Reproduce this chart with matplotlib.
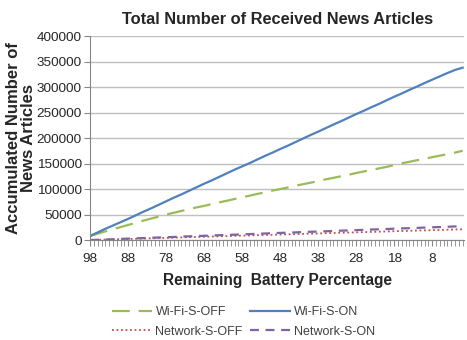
import matplotlib
matplotlib.use("Agg")
import matplotlib.pyplot as plt
from matplotlib.ticker import MultipleLocator, FixedLocator
import numpy as np

plt.rcParams['font.family'] = ['Liberation Sans', 'DejaVu Sans']

# remaining battery percentage, sampled every 2 %
battery = np.arange(98, -1, -2)

wifi_on = [8000, 15000, 22000, 28500, 35000, 41500, 48500, 55500, 62000, 69000,
           76000, 83000, 89500, 96500, 103500, 110500, 117000, 124000, 131000, 138000,
           144500, 151000, 158000, 165000, 171500, 178500, 185000, 192000, 199000, 206000,
           212500, 219500, 226500, 233000, 240000, 247000, 253500, 260500, 267000, 274000,
           281000, 287500, 294500, 301000, 308000, 314500, 321000, 327500, 333500, 338000]

wifi_off = [8000, 12500, 17000, 21000, 25500, 29500, 34000, 38000, 42000, 46000,
            50000, 53500, 57000, 60500, 64000, 67000, 70500, 74000, 77000, 80500,
            84000, 87000, 90500, 93500, 97000, 100000, 103000, 106500, 109500, 112500,
            115500, 119000, 122000, 125000, 128000, 131500, 134500, 137500, 140500, 143500,
            147000, 150500, 153500, 156500, 159500, 162500, 165500, 168500, 171500, 175000]

net_on = [0, 500, 1000, 1500, 2200, 2800, 3300, 3800, 4500, 5000,
          5500, 6000, 6800, 7300, 7800, 8300, 9000, 9500, 10000, 10500,
          11200, 11700, 12200, 12800, 13500, 14000, 14500, 15000, 15700, 16200,
          16700, 17200, 17900, 18400, 18900, 19400, 20100, 20600, 21100, 21600,
          22300, 22800, 23300, 23800, 24500, 25000, 25500, 26000, 26700, 27200]

net_off = [0, 400, 800, 1200, 1700, 2100, 2500, 3000, 3400, 3800,
           4300, 4700, 5100, 5600, 6000, 6400, 6900, 7300, 7700, 8200,
           8600, 9000, 9500, 9900, 10300, 10800, 11200, 11600, 12100, 12500,
           12900, 13400, 13800, 14200, 14700, 15100, 15500, 16000, 16400, 16800,
           17300, 17700, 18100, 18600, 19000, 19400, 19900, 20300, 20700, 21200]

x_ticks = [98, 88, 78, 68, 58, 48, 38, 28, 18, 8]

fig = plt.figure(figsize=(4.67, 3.4), dpi=100)
ax = fig.add_axes([0.193, 0.294, 0.801, 0.6])

l_woff, = ax.plot(battery, wifi_off, color='#9BBB59', lw=1.6, ls=(0, (8, 4)), label='Wi-Fi-S-OFF')
l_won, = ax.plot(battery, wifi_on, color='#4F81BD', lw=1.6, label='Wi-Fi-S-ON')
l_noff, = ax.plot(battery, net_off, color='#C0504D', lw=1.3, ls=(0, (1, 1.5)), label='Network-S-OFF')
l_non, = ax.plot(battery, net_on, color='#8064A2', lw=1.6, ls=(0, (4, 3)), label='Network-S-ON')

ax.set_xlim(98, -0.4)
ax.set_ylim(0, 400000)
ax.xaxis.set_major_locator(FixedLocator(x_ticks))
ax.xaxis.set_minor_locator(MultipleLocator(1))
ax.yaxis.set_major_locator(MultipleLocator(50000))
ax.grid(axis='y', color='#BFBFBF', lw=1)
ax.set_axisbelow(True)
for s in ['top', 'right']:
    ax.spines[s].set_visible(False)
for s in ['left', 'bottom']:
    ax.spines[s].set_color('#868686')
ax.tick_params(axis='x', which='both', direction='out', length=4, color='#868686',
               labelsize=9.7, labelcolor='#262626', pad=5)
ax.tick_params(axis='y', length=4, color='#868686', labelsize=9.7, labelcolor='#262626', pad=2)

ax.set_title('Total Number of Received News Articles', fontsize=11.8, fontweight='bold',
             color='#262626', pad=9)
ax.set_xlabel('Remaining  Battery Percentage', fontsize=11.2, fontweight='bold',
              color='#262626', labelpad=6)
ax.set_ylabel('Accumulated Number of\nNews Articles', fontsize=12, fontweight='bold',
              color='#262626', linespacing=1.0)
ax.yaxis.set_label_coords(-0.146, 0.5)

# row-wise legend order
ax.legend([l_woff, l_noff, l_won, l_non],
          ['Wi-Fi-S-OFF', 'Network-S-OFF', 'Wi-Fi-S-ON', 'Network-S-ON'],
          loc='upper center', bbox_to_anchor=(0.41, -0.27), ncol=2, frameon=False,
          fontsize=9, labelcolor='#404040', handlelength=3.2, columnspacing=0.6,
          handletextpad=0.3, labelspacing=0.6)

fig.savefig('out.png', dpi=100)
